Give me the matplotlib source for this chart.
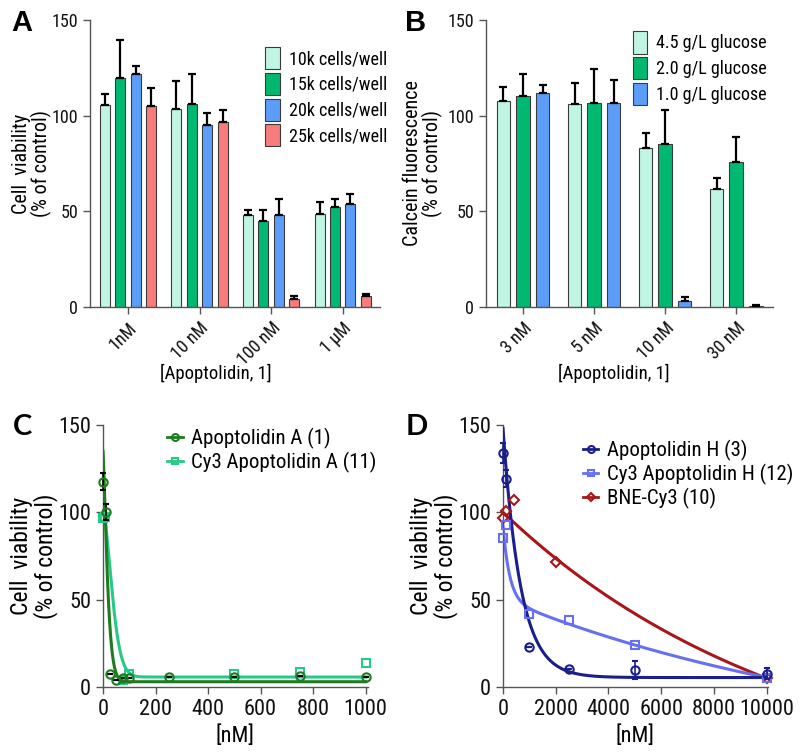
import numpy as np
import matplotlib
matplotlib.use("Agg")
import matplotlib.pyplot as plt
from matplotlib import font_manager as fm
from matplotlib.patches import Patch
from matplotlib.lines import Line2D

# narrow Arial-like face if one is installed
installed = {f.name for f in fm.fontManager.ttflist}
narrow = next((n for n in ["Liberation Sans Narrow", "Arial Narrow", "Roboto Condensed",
                           "Archivo Narrow", "Asap Condensed"] if n in installed),
              "Liberation Sans")
plt.rcParams["font.family"] = [narrow, "Liberation Sans", "DejaVu Sans"]

# ---- panel A: cell density ----
a_groups = ["1nM", "10 nM", "100 nM", "1 µM"]
a_labels = ["10k cells/well", "15k cells/well", "20k cells/well", "25k cells/well"]
a_10k = [105.5, 103.5, 48.0, 48.5]
a_15k = [119.5, 106.3, 44.8, 52.0]
a_20k = [122.0, 95.0, 48.3, 53.6]
a_25k = [104.8, 96.5, 4.4, 5.6]
a_10k_err = [5.8, 14.6, 2.6, 6.5]
a_15k_err = [20.0, 15.4, 5.8, 4.3]
a_20k_err = [4.1, 6.5, 8.0, 5.5]
a_25k_err = [9.4, 6.6, 1.4, 1.4]

# ---- panel B: glucose ----
b_groups = ["3 nM", "5 nM", "10 nM", "30 nM"]
b_labels = ["4.5 g/L glucose", "2.0 g/L glucose", "1.0 g/L glucose"]
b_45 = [107.7, 106.1, 83.0, 61.4]
b_20 = [110.1, 106.5, 85.1, 75.7]
b_10 = [111.7, 106.6, 3.0, 0.7]
b_45_err = [7.2, 10.9, 8.1, 6.1]
b_20_err = [11.8, 17.8, 17.9, 12.9]
b_10_err = [4.4, 12.1, 2.2, 0.5]

# ---- panel C: apoptolidin A vs Cy3 ----
c_a_x = [1, 10, 25, 50, 75, 100, 250, 500, 750, 1000]
c_a_y = [117.5, 100.0, 7.3, 4.2, 5.2, 5.2, 5.7, 5.7, 6.3, 5.7]
c_a_err = [4.8, 4.5, 0, 0, 0, 0, 0, 0, 0, 0]
c_cy_x = [1, 8, 75, 100, 500, 750, 1000]
c_cy_y = [97.0, 97.5, 4.0, 7.5, 7.3, 8.6, 14.0]
# fit parameters (top, bottom, scale, shape)
c_a_fit = (135, 3.0, 20, 1.3)
c_cy_fit = (102, 5.7, 44, 1.6)

# ---- panel D: apoptolidin H ----
d_h_x = [10, 100, 1000, 2500, 5000, 10000]
d_h_y = [133.7, 119.2, 22.6, 10.3, 9.6, 7.7]
d_h_err = [5.7, 5.0, 0, 0, 5.2, 3.3]
d_hcy_x = [10, 100, 1000, 2500, 5000, 10000]
d_hcy_y = [85.0, 92.5, 41.8, 38.1, 23.8, 5.2]
d_bne_x = [10, 100, 400, 2000, 10000]
d_bne_y = [97.0, 101.0, 107.0, 71.7, 5.2]
d_h_fit = (148, 5.4, 0.0015)
d_hcy_fit = (-40, 90.3, 6.88e-5, 41.7, 0.004)
d_bne_fit = (100, -60.2, 9e-5)

mint, green, blue, salmon = "#c0f5e3", "#00b872", "#5c9dfa", "#f87c7c"
dkgreen, ltgreen = "#1e7b1e", "#26c98a"
navy, ltblue, dkred = "#1a1f8a", "#6670f0", "#a8161a"
spine_col = "#555555"


def stretched(x, top, bottom, c, p):
    return bottom + (top - bottom) * np.exp(-(x / c) ** p)


def decay(x, top, bottom, k):
    return bottom + (top - bottom) * np.exp(-k * x)


def two_phase(x, b, a1, k1, a2, k2):
    return b + a1 * np.exp(-k1 * x) + a2 * np.exp(-k2 * x)


def style(ax, fs):
    for s in ["top", "right"]:
        ax.spines[s].set_visible(False)
    for s in ["left", "bottom"]:
        ax.spines[s].set_color(spine_col)
        ax.spines[s].set_linewidth(1.0)
    ax.tick_params(colors=spine_col, labelcolor="#111111", labelsize=fs,
                   length=5, width=1.0, direction="out")
    ax.set_ylim(0, 150)
    ax.set_yticks([0, 50, 100, 150])


fig = plt.figure(figsize=(8, 7.56), dpi=100)

# ---------- A ----------
axA = fig.add_axes([0.1125, 0.594, 0.3625, 0.3796])
xa = np.arange(len(a_groups))
pitch, w = 0.215, 0.14
seriesA = [(a_10k, a_10k_err, mint), (a_15k, a_15k_err, green),
           (a_20k, a_20k_err, blue), (a_25k, a_25k_err, salmon)]
for i, (vals, err, col) in enumerate(seriesA):
    pos = xa + (i - 1.5) * pitch
    axA.bar(pos, vals, w, color=col, edgecolor="#3a3a3a", linewidth=0.8, zorder=2)
    axA.errorbar(pos, vals, yerr=[np.zeros(len(vals)), err], fmt="none",
                 ecolor="black", elinewidth=1.6, capsize=3, capthick=1.6, zorder=3)
style(axA, 13)
axA.set_xlim(-0.53, 3.52)
axA.set_xticks(xa)
axA.set_xticklabels(a_groups, rotation=45, ha="right", rotation_mode="anchor")
axA.set_ylabel("Cell  viability\n(% of control)", fontsize=14.5, linespacing=1.0)
axA.yaxis.set_label_coords(-0.13, 0.5)
axA.set_xlabel("[Apoptolidin, 1]", fontsize=13.5)
axA.xaxis.set_label_coords(0.434, -0.2)
axA.legend(handles=[Patch(facecolor=c, edgecolor="#3a3a3a", linewidth=0.8, label=l)
                    for (_, _, c), l in zip(seriesA, a_labels)],
           loc="upper left", bbox_to_anchor=(0.58, 0.93), frameon=False,
           fontsize=13, handlelength=0.8, handleheight=1.5, handletextpad=0.5,
           labelspacing=0.2, borderaxespad=0)

# ---------- B ----------
axB = fig.add_axes([0.6075, 0.594, 0.359, 0.3796])
xb = np.arange(len(b_groups))
pitch_b, w_b = 0.275, 0.19
seriesB = [(b_45, b_45_err, mint), (b_20, b_20_err, green), (b_10, b_10_err, blue)]
for i, (vals, err, col) in enumerate(seriesB):
    pos = xb + (i - 1) * pitch_b
    axB.bar(pos, vals, w_b, color=col, edgecolor="#3a3a3a", linewidth=0.8, zorder=2)
    axB.errorbar(pos, vals, yerr=[np.zeros(len(vals)), err], fmt="none",
                 ecolor="black", elinewidth=1.6, capsize=3, capthick=1.6, zorder=3)
style(axB, 13)
axB.set_xlim(-0.52, 3.52)
axB.set_xticks(xb)
axB.set_xticklabels(b_groups, rotation=45, ha="right", rotation_mode="anchor")
axB.set_ylabel("Calcein fluorescence\n(% of control)", fontsize=14.5, linespacing=1.0)
axB.yaxis.set_label_coords(-0.15, 0.5)
axB.set_xlabel("[Apoptolidin, 1]", fontsize=13.5)
axB.xaxis.set_label_coords(0.446, -0.2)
axB.legend(handles=[Patch(facecolor=c, edgecolor="#3a3a3a", linewidth=0.8, label=l)
                    for (_, _, c), l in zip(seriesB, b_labels)],
           loc="upper left", bbox_to_anchor=(0.485, 0.985), frameon=False,
           fontsize=13, handlelength=0.8, handleheight=1.5, handletextpad=0.5,
           labelspacing=0.2, borderaxespad=0)

# ---------- C ----------
axC = fig.add_axes([0.12875, 0.0913, 0.331, 0.3466])
xc = np.linspace(0, 1000, 2001)
axC.plot(xc, stretched(xc, *c_cy_fit), color=ltgreen, lw=2.2, zorder=2)
axC.plot(xc, stretched(xc, *c_a_fit), color=dkgreen, lw=2.2, zorder=3)
axC.plot(c_cy_x, c_cy_y, "s", ms=6, mfc="none", mec=ltgreen, mew=1.5,
         clip_on=False, zorder=4)
axC.errorbar(c_a_x, c_a_y, yerr=c_a_err, fmt="o", ms=6, mfc="none", mec=dkgreen,
             mew=1.5, ecolor="black", elinewidth=1.2, capsize=2, clip_on=False, zorder=5)
style(axC, 16)
axC.set_xlim(0, 1008)
axC.set_xticks([0, 200, 400, 600, 800, 1000])
axC.set_ylabel("Cell  viability\n(% of control)", fontsize=17, linespacing=1.0)
axC.yaxis.set_label_coords(-0.17, 0.5)
axC.set_xlabel("[nM]", fontsize=16)
axC.legend(handles=[Line2D([], [], color=dkgreen, lw=2, marker="o", ms=5, mfc="none",
                           mew=1.5, label="Apoptolidin A (1)"),
                    Line2D([], [], color=ltgreen, lw=2, marker="s", ms=5, mfc="none",
                           mew=1.5, label="Cy3 Apoptolidin A (11)")],
           loc="upper left", bbox_to_anchor=(0.21, 1.02), frameon=False, fontsize=15,
           handlelength=0.75, handletextpad=0.4, labelspacing=0.15, borderaxespad=0)

# ---------- D ----------
axD = fig.add_axes([0.62875, 0.0913, 0.331, 0.3466])
xd = np.linspace(0, 10000, 2001)
axD.plot(xd, decay(xd, *d_bne_fit), color=dkred, lw=2.2, zorder=2)
axD.plot(xd, two_phase(xd, *d_hcy_fit), color=ltblue, lw=2.2, zorder=2)
axD.plot(xd, decay(xd, *d_h_fit), color=navy, lw=2.2, zorder=3)
axD.plot(d_bne_x, d_bne_y, "D", ms=5.5, mfc="none", mec=dkred, mew=1.5,
         clip_on=False, zorder=4)
axD.plot(d_hcy_x, d_hcy_y, "s", ms=6, mfc="none", mec=ltblue, mew=1.5,
         clip_on=False, zorder=4)
axD.errorbar(d_h_x, d_h_y, yerr=d_h_err, fmt="o", ms=6, mfc="none", mec=navy,
             mew=1.5, ecolor=navy, elinewidth=1.2, capsize=2, clip_on=False, zorder=5)
style(axD, 16)
axD.set_xlim(0, 10040)
axD.set_xticks([0, 2000, 4000, 6000, 8000, 10000])
axD.set_ylabel("Cell  viability\n(% of control)", fontsize=17, linespacing=1.0)
axD.yaxis.set_label_coords(-0.17, 0.5)
axD.set_xlabel("[nM]", fontsize=16)
axD.legend(handles=[Line2D([], [], color=navy, lw=2, marker="o", ms=5, mfc="none",
                           mew=1.5, label="Apoptolidin H (3)"),
                    Line2D([], [], color=ltblue, lw=2, marker="s", ms=5, mfc="none",
                           mew=1.5, label="Cy3 Apoptolidin H (12)"),
                    Line2D([], [], color=dkred, lw=2, marker="D", ms=4.5, mfc="none",
                           mew=1.5, label="BNE-Cy3 (10)")],
           loc="upper left", bbox_to_anchor=(0.27, 0.975), frameon=False, fontsize=15,
           handlelength=0.75, handletextpad=0.4, labelspacing=0.15, borderaxespad=0)

# panel letters
for lab, x, y, fam in [("A", 22, 23, "Liberation Sans"), ("B", 416, 23, "Liberation Sans"),
                       ("C", 22, 427, "Lato"), ("D", 417, 427, "Lato")]:
    fig.text(x / 800, 1 - y / 756, lab, fontsize=21, fontweight="bold",
             family=[fam, "DejaVu Sans"], ha="center", va="center")

fig.savefig("out.png", dpi=100)
